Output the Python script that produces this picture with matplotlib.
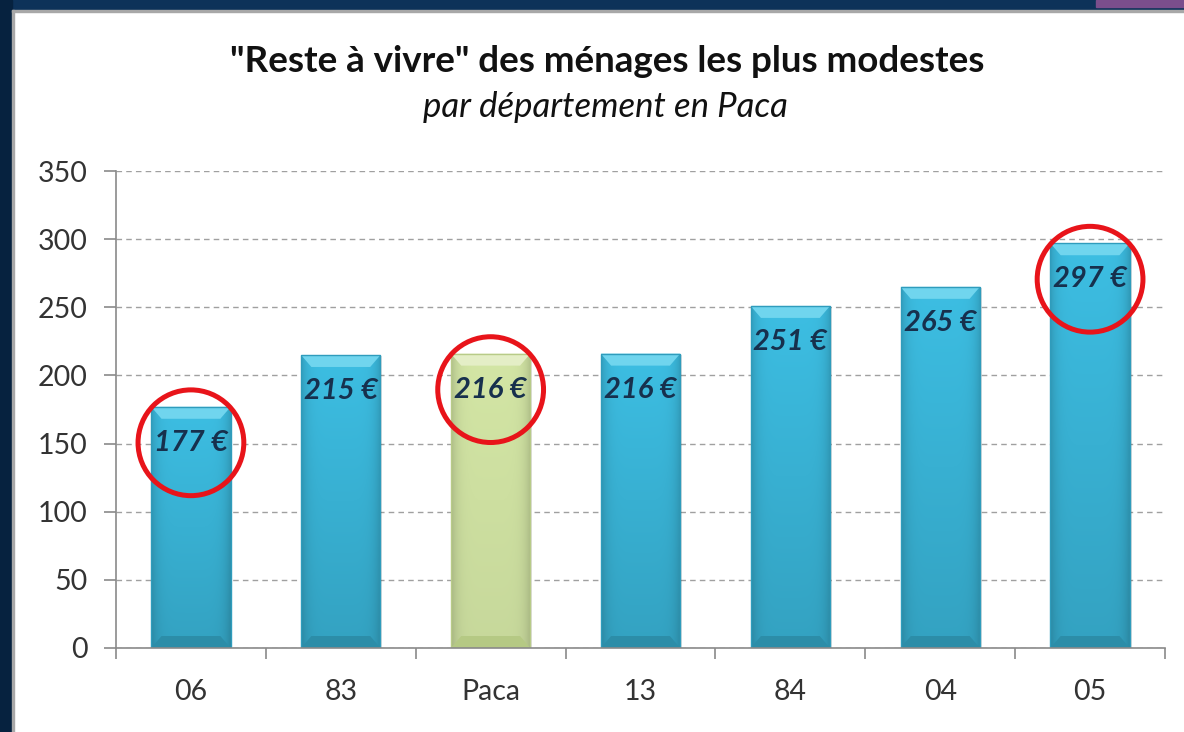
import numpy as np
import matplotlib
matplotlib.use("Agg")
import matplotlib.pyplot as plt
from matplotlib.patches import Rectangle, Polygon
from matplotlib.transforms import ScaledTranslation

categories = ["06", "83", "Paca", "13", "84", "04", "05"]
values = [177, 215, 216, 216, 251, 265, 297]
circled = ["06", "Paca", "05"]
region_label = "Paca"
yticks = [0, 50, 100, 150, 200, 250, 300, 350]

title = '"Reste à vivre" des ménages les plus modestes'
subtitle = "par département en Paca"

plt.rcParams['font.family'] = ['Lato', 'DejaVu Sans']

W, H = 1184, 732
fig = plt.figure(figsize=(W / 100, H / 100), dpi=100, facecolor="white")

# frame decoration
fig.patches.append(Rectangle((0, 1 - 10 / H), 1, 10 / H, transform=fig.transFigure,
                             color="#0D3259", zorder=0))
fig.patches.append(Rectangle((1096 / W, 1 - 7 / H), 88 / W, 7 / H, transform=fig.transFigure,
                             color="#7B4E8C", zorder=1))
fig.patches.append(Rectangle((0, 0), 12 / W, 1, transform=fig.transFigure,
                             color="#06223F", zorder=0))
fig.patches.append(Rectangle((12 / W, 0), 2 / W, 1 - 10 / H, transform=fig.transFigure,
                             color="#A8A8A8", zorder=1))
fig.patches.append(Rectangle((12 / W, 1 - 12 / H), 1, 2 / H, transform=fig.transFigure,
                             color="#A8A8A8", zorder=1))

ax = fig.add_axes([116 / W, 84 / H, 1049 / W, 477 / H])
ax.set_facecolor("none")
x = np.arange(len(categories))
width = 0.53

ax.set_xlim(-0.5, len(categories) - 0.5)
ax.set_ylim(0, 350)
ax.set_yticks(yticks)
ax.yaxis.grid(True, linestyle=(0, (4, 3)), color="#A0A0A0", linewidth=1.0, zorder=0)
ax.set_axisbelow(True)

for s in ["top", "right"]:
    ax.spines[s].set_visible(False)
for s in ["left", "bottom"]:
    ax.spines[s].set_color("#8A8A8A")
    ax.spines[s].set_linewidth(1.2)

ax.set_xticks(x)
ax.set_xticklabels(categories)
ax.set_xticks(np.arange(-0.5, len(categories) + 0.5, 1), minor=True)
ax.tick_params(axis="x", which="major", length=0, pad=22, labelsize=20.5, labelcolor="#333333")
ax.tick_params(axis="x", which="minor", length=8, width=1.2, color="#8A8A8A")
ax.tick_params(axis="y", length=8.5, width=1.2, color="#8A8A8A", pad=12,
               labelsize=20.5, labelcolor="#333333")

bars = ax.bar(x, values, width=width, color="none", edgecolor="none", zorder=2)

ppu = 477 / 350.0  # pixels per data unit


def bar_image(base, vdrop, hw=60, hh=200):
    base = np.array(matplotlib.colors.to_rgb(base))
    xs = np.linspace(-1, 1, hw)
    ys = np.linspace(0, 1, hh)  # 0 = top
    hfac = 1 - 0.16 * np.abs(xs) ** 6
    vfac = 1 + vdrop / 2 - vdrop * ys
    img = base[None, None, :] * (vfac[:, None, None] * hfac[None, :, None])
    return np.clip(img, 0, 1)


for i, (b, cat, v) in enumerate(zip(bars, categories, values)):
    green = cat == region_label
    base = "#CDDFA0" if green else "#38B0D2"
    x0, x1 = b.get_x(), b.get_x() + b.get_width()
    # soft shadow
    ax.add_patch(Rectangle((x0 + 0.012, -1), b.get_width(), v, color="#000000",
                           alpha=0.12, zorder=1.5, linewidth=0))
    im = ax.imshow(bar_image(base, 0.06 if green else 0.16), extent=[x0, x1, 0, v],
                   aspect="auto", zorder=2.1, interpolation="bilinear")
    im.set_clip_path(b)
    bev = 12 / ppu
    dx = b.get_width() * 0.13
    top_col = "#E4EEC6" if green else "#70D5EE"
    bot_col = "#B5C984" if green else "#2C8DA8"
    side_col = "#B8CB88" if green else "#2F9CBC"
    ax.add_patch(Polygon([[x0, v], [x1, v], [x1 - dx, v - bev], [x0 + dx, v - bev]],
                         closed=True, color=top_col, zorder=2.2, linewidth=0))
    ax.add_patch(Polygon([[x0, 0], [x1, 0], [x1 - dx, bev], [x0 + dx, bev]],
                         closed=True, color=bot_col, zorder=2.2, linewidth=0))
    ax.add_patch(Rectangle((x0, 0), b.get_width(), v, fill=False,
                           edgecolor=side_col, linewidth=1.0, zorder=2.3))
    ax.annotate(f"{v} €", xy=(i, v), xytext=(0, -26), textcoords="offset points",
                ha="center", va="center", fontsize=21, fontweight="bold", fontstyle="italic",
                color="#17304D", zorder=4)

offset = ax.transData + ScaledTranslation(0, -36 / 100, fig.dpi_scale_trans)
cx = [categories.index(c) for c in circled]
cy = [values[categories.index(c)] for c in circled]
ax.scatter(cx, cy, s=5800, facecolors="none", edgecolors="#E8141A", linewidths=3.6,
           transform=offset, zorder=5, clip_on=False)

fig.text(607 / W, 1 - 62 / H, title, ha="center", va="center", fontsize=26.5,
         fontweight="bold", color="#111111")
fig.text(605 / W, 1 - 107 / H, subtitle, ha="center", va="center", fontsize=25,
         fontstyle="italic", color="#111111")

fig.savefig("out.png", dpi=100, facecolor="white")
